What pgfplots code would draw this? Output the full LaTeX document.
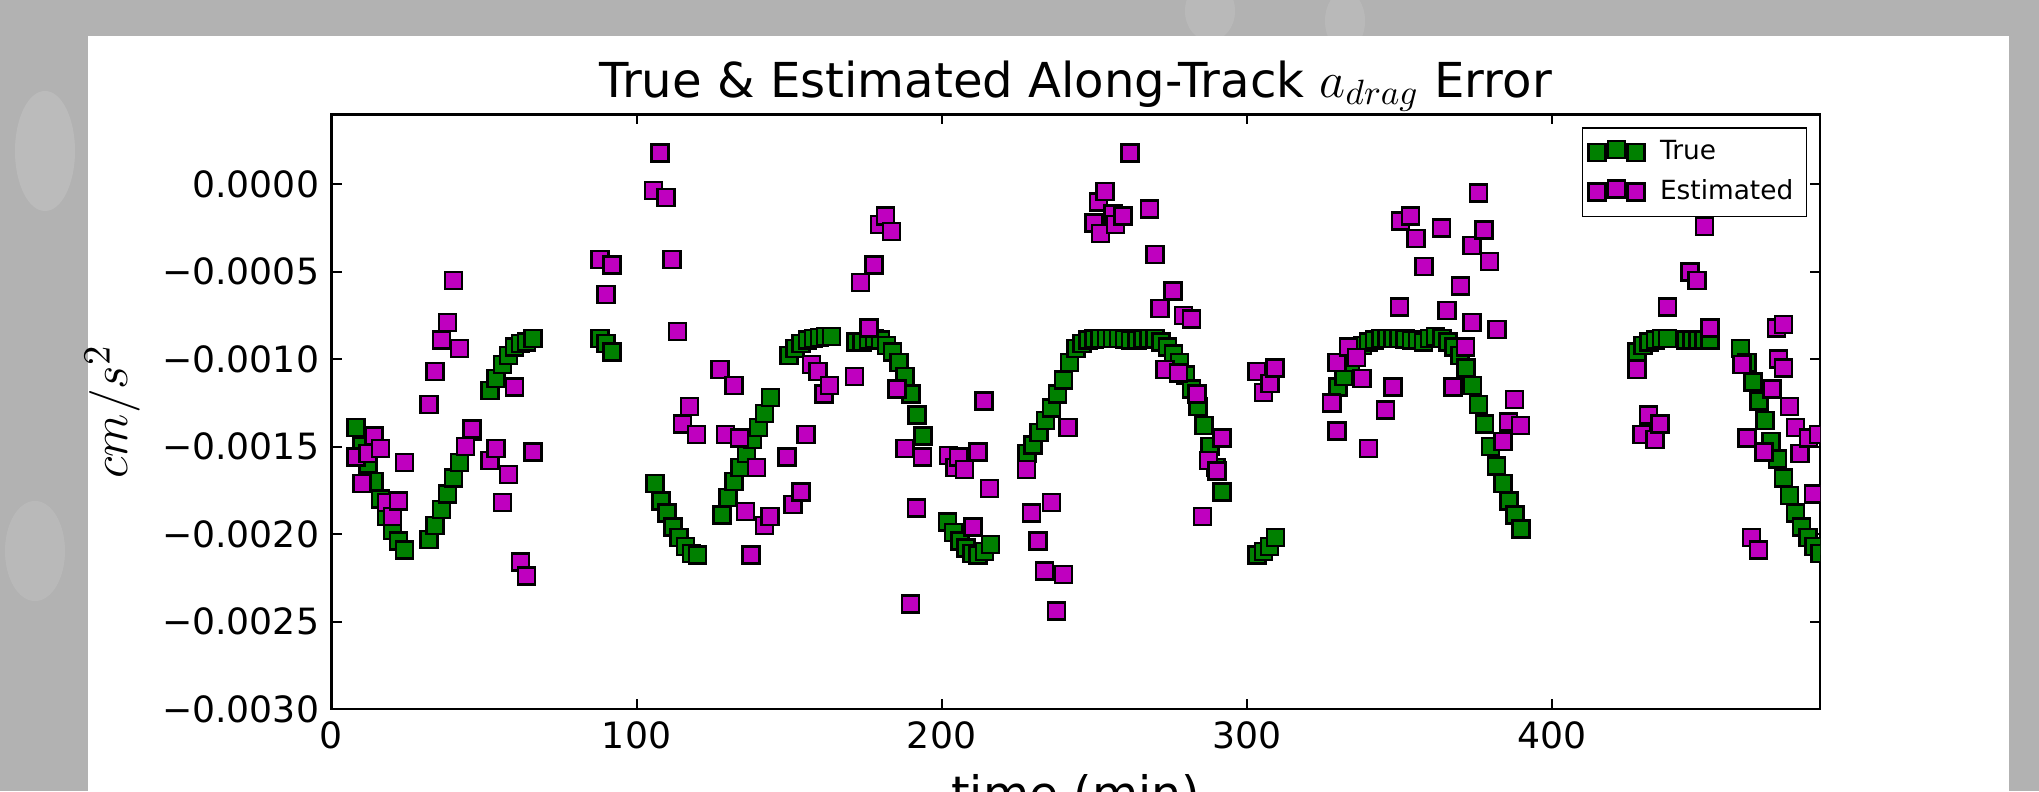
\documentclass[border=0pt]{standalone}
\usepackage{fontspec}
\setmainfont{DejaVu Sans}
\usepackage{pgfplots}
\pgfplotsset{compat=1.18}
\usepackage{pgfplotstable}
\definecolor{bg}{RGB}{178,178,178}
\definecolor{mgreen}{RGB}{0,128,0}
\definecolor{mmag}{RGB}{191,0,191}
\pgfplotsset{legend image code/.code={\path[draw=none,fill=none] (-0.4mm,0mm) -- (5.6mm,0mm);\draw[mark repeat=1,mark phase=1,#1] plot coordinates {(0mm,0mm) (1.95mm,0.3mm) (3.9mm,0mm)};}}

\pgfplotstableread{
t y
8 -0.00139
10 -0.00150
12 -0.00160
14 -0.00170
16 -0.00180
18 -0.00190
20 -0.00198
22 -0.00204
24 -0.00209
32 -0.00203
34 -0.00195
36 -0.00186
38 -0.00177
40 -0.00168
42 -0.00159
44 -0.00150
46 -0.00141
52 -0.00118
54 -0.00111
56 -0.00103
58 -0.00098
60 -0.00093
62 -0.00091
64 -0.00090
66 -0.00088
88 -0.00088
90 -0.00091
92 -0.00096
106 -0.00171
108 -0.00181
110 -0.00188
112 -0.00196
114 -0.00202
116 -0.00207
118 -0.00211
120 -0.00212
128 -0.00189
130 -0.00179
132 -0.00170
134 -0.00162
136 -0.00154
138 -0.00146
140 -0.00139
142 -0.00131
144 -0.00122
150 -0.00098
152 -0.00094
154 -0.00091
156 -0.00089
158 -0.00088
160 -0.000875
162 -0.00087
164 -0.00087
172 -0.00090
174 -0.00090
176 -0.00089
178 -0.00088
180 -0.00089
182 -0.00092
184 -0.00096
186 -0.00102
188 -0.00110
190 -0.00120
192 -0.00132
194 -0.00144
202 -0.00193
204 -0.00199
206 -0.00204
208 -0.00208
210 -0.00211
212 -0.00212
214 -0.00210
216 -0.00206
228 -0.00154
230 -0.00149
232 -0.00142
234 -0.00135
236 -0.00128
238 -0.00120
240 -0.00112
242 -0.00102
244 -0.00094
246 -0.00091
248 -0.00089
250 -0.000885
252 -0.00088
254 -0.00088
256 -0.00088
258 -0.00088
260 -0.000885
262 -0.00089
264 -0.00089
266 -0.000885
268 -0.00088
270 -0.00088
272 -0.00090
274 -0.00093
276 -0.00097
278 -0.00102
280 -0.00109
282 -0.00117
284 -0.00127
286 -0.00138
288 -0.00150
290 -0.00162
292 -0.00176
303.5 -0.00212
305.5 -0.00210
307.5 -0.00207
309.5 -0.00202
328 -0.00125
330 -0.00116
332 -0.00110
334 -0.00102
336 -0.00096
338 -0.00092
340 -0.00090
342 -0.00089
344 -0.00088
346 -0.00088
348 -0.00088
350 -0.00088
352 -0.000885
354 -0.00089
356 -0.00089
358 -0.00090
360 -0.00088
362 -0.00087
364 -0.00088
366 -0.00090
368 -0.00093
370 -0.00098
372 -0.00105
374 -0.00115
376 -0.00126
378 -0.00137
380 -0.00150
382 -0.00161
384 -0.00171
386 -0.00181
388 -0.00189
390 -0.00197
428 -0.00096
430 -0.00092
432 -0.00090
434 -0.00089
436 -0.00088
438 -0.00088
444 -0.00089
446 -0.00089
448 -0.00089
450 -0.00089
452 -0.00089
462 -0.00094
464 -0.00102
466 -0.00113
468 -0.00124
470 -0.00135
472 -0.00147
474 -0.00157
476 -0.00168
478 -0.00178
480 -0.00188
482 -0.00196
484 -0.00202
486 -0.00207
488 -0.00211
}\truedata

\pgfplotstableread{
t y
8 -0.00156
10 -0.00171
12 -0.00154
14 -0.00144
16 -0.00151
18 -0.00182
20 -0.00190
22 -0.00181
24 -0.00159
32 -0.00126
34 -0.00107
36 -0.00089
38 -0.00079
40 -0.00055
42 -0.00094
44 -0.00150
46 -0.00140
52 -0.00158
54 -0.00151
56 -0.00182
58 -0.00166
60 -0.00116
62 -0.00216
64 -0.00224
66 -0.00153
88 -0.00043
90 -0.00063
92 -0.00046
105.5 -0.000036
107.7 0.000178
109.6 -0.000075
111.6 -0.00043
113.5 -0.00084
115.1 -0.00137
117.3 -0.00127
119.7 -0.00143
127.4 -0.00106
129.1 -0.00143
131.9 -0.00115
133.7 -0.00145
135.7 -0.00187
137.6 -0.00212
139.4 -0.00162
141.9 -0.00195
143.8 -0.00190
149.4 -0.00156
151.3 -0.00183
154.0 -0.00176
155.6 -0.00143
157.3 -0.00103
159.5 -0.00107
161.4 -0.00120
163.3 -0.00115
171.5 -0.00110
173.4 -0.00056
176.2 -0.00082
177.9 -0.00046
179.7 -0.00023
181.7 -0.00018
183.6 -0.00027
185.4 -0.00117
188.0 -0.00151
189.8 -0.00240
191.8 -0.00185
193.8 -0.00156
202.2 -0.00155
204.4 -0.00162
205.6 -0.00156
207.6 -0.00163
210.3 -0.00196
211.9 -0.00153
213.9 -0.00124
215.8 -0.00174
227.8 -0.00163
229.5 -0.00188
231.7 -0.00204
233.8 -0.00221
236.0 -0.00182
237.7 -0.00244
239.9 -0.00223
241.5 -0.00139
250.0 -0.00022
251.4 -0.00010
252.1 -0.00028
253.6 -0.00004
256.2 -0.00017
257.0 -0.00023
259.5 -0.00018
261.8 0.00018
268.1 -0.00014
270.0 -0.00040
271.6 -0.00071
273.3 -0.00106
275.8 -0.00061
277.7 -0.00108
279.3 -0.00075
282.0 -0.00077
283.7 -0.00120
285.6 -0.00190
287.5 -0.00158
290.3 -0.00164
291.9 -0.00145
303.4 -0.00107
305.5 -0.00119
307.7 -0.00114
309.4 -0.00105
327.9 -0.00125
329.6 -0.00102
329.6 -0.00141
333.4 -0.00093
336.1 -0.00099
337.8 -0.00111
340.0 -0.00151
345.5 -0.00129
348.0 -0.00116
350.2 -0.00070
350.4 -0.00021
353.7 -0.00018
355.6 -0.00031
358.1 -0.00047
363.9 -0.00025
365.7 -0.00072
367.7 -0.00116
370.1 -0.00058
371.7 -0.00093
373.9 -0.00079
373.9 -0.00035
376.1 -0.00005
377.8 -0.00026
379.7 -0.00044
382.1 -0.00083
384.1 -0.00147
385.9 -0.00136
387.8 -0.00123
389.8 -0.00138
428.0 -0.00106
429.6 -0.00143
431.8 -0.00132
433.9 -0.00146
435.6 -0.00137
438.0 -0.00070
445.4 -0.00050
447.6 -0.00055
450.1 -0.00024
452.0 -0.00082
462.4 -0.00103
464.0 -0.00145
465.6 -0.00202
467.8 -0.00209
469.7 -0.00153
472.2 -0.00117
473.8 -0.00082
474.4 -0.00100
476.0 -0.00080
476.0 -0.00105
478.0 -0.00127
479.9 -0.00139
481.5 -0.00154
484.2 -0.00145
485.9 -0.00177
487.5 -0.00143
}\estdata

\begin{document}
\begin{tikzpicture}
\path[use as bounding box] (0mm,0mm) rectangle (203.9mm,79.1mm);
\clip (0mm,0mm) rectangle (203.9mm,79.1mm);
\fill[bg] (0mm,0mm) rectangle (203.9mm,79.1mm);
\fill[white,opacity=0.12] (4.5mm,64mm) ellipse (3mm and 6mm);
\fill[white,opacity=0.10] (3.5mm,24mm) ellipse (3mm and 5mm);
\fill[white,opacity=0.10] (121mm,78mm) ellipse (2.5mm and 3mm);
\fill[white,opacity=0.10] (134.5mm,77mm) ellipse (2mm and 3mm);
\fill[white] (8.8mm,-1mm) rectangle (200.9mm,75.5mm);
\begin{axis}[
  at={(33.15mm,8.2mm)}, anchor=south west,
  scale only axis, width=148.85mm, height=59.46mm,
  xmin=0, xmax=488, ymin=-0.003, ymax=0.0004,
  xtick={0,100,200,300,400},
  xticklabels={0,100,200,300,400},
  ytick={-0.003,-0.0025,-0.002,-0.0015,-0.001,-0.0005,0},
  yticklabels={−0.0030,−0.0025,−0.0020,−0.0015,−0.0010,−0.0005,0.0000},
  scaled y ticks=false, scaled x ticks=false,
  tick align=inside, tick pos=both, major tick length=1mm,
  minor tick num=0,
  ticklabel style={font=\fontsize{10.3}{12}\selectfont},
  axis line style={line width=0.25mm},
  tick style={line width=0.2mm, black},
  clip marker paths=true,
  title={True \& Estimated Along-Track $a_{drag}$ Error},
  title style={at={(axis description cs:0.5,1)}, anchor=base, yshift=-0.4mm, inner sep=0pt, font=\fontsize{13.7}{16}\selectfont},
  xlabel={time (min)},
  xlabel style={at={(axis description cs:0.5,0)}, anchor=north, yshift=-6.5mm, inner sep=0pt, font=\fontsize{13.5}{16}\selectfont},
  ylabel={$cm/s^2$},
  ylabel style={at={(axis description cs:-0.147,0.5)}, anchor=center, font=\fontsize{15.5}{18}\selectfont},
  legend style={at={(axis description cs:1,1)}, anchor=north east, xshift=-1.3mm, yshift=-1.3mm,
    font=\fontsize{7.5}{9}\selectfont, draw=black, line width=0.15mm, inner xsep=0.6mm, inner ysep=0.5mm, row sep=0.05mm},
  legend cell align=left,
]
\addplot[only marks, mark=square*, mark size=0.85mm,
  mark options={draw=black, fill=mgreen, line width=0.25mm}]
  table[x=t,y=y] {\truedata};
\addlegendentry{True}
\addplot[only marks, mark=square*, mark size=0.85mm,
  mark options={draw=black, fill=mmag, line width=0.25mm}]
  table[x=t,y=y] {\estdata};
\addlegendentry{Estimated}
\end{axis}
\end{tikzpicture}
\end{document}
